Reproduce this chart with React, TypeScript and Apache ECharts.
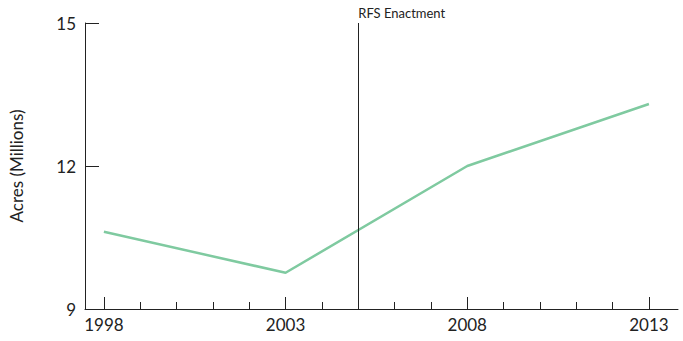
import React, { useEffect, useRef } from "react";
import * as echarts from "echarts";

const years = [1998, 2003, 2008, 2013];
const acres = [10.62, 9.76, 12.0, 13.3];
const majorTicks = [1998, 2003, 2008, 2013];
const minorTicks = [1998, 1999, 2000, 2001, 2002, 2003, 2004, 2005, 2006, 2007, 2008, 2009, 2010, 2011, 2012, 2013];
const yTicks = [9, 12, 15];
const eventYear = 2005;
const eventLabel = "RFS Enactment";
const yName = "Acres (Millions)";

const FONT = "Lato, 'Noto Sans', sans-serif";
const AXIS = "#222";

export default function App() {
  const ref = useRef<HTMLDivElement>(null);
  useEffect(() => {
    if (!ref.current) return;
    const chart = echarts.init(ref.current, null, { renderer: "svg" });
    chart.setOption({
      animation: false,
      grid: { left: 85, right: 5, top: 23, bottom: 32, containLabel: false },
      xAxis: [
        {
          type: "value",
          min: 1997.48,
          max: 2013.8,
          position: "bottom",
          axisLine: { show: true, lineStyle: { color: AXIS, width: 1 } },
          axisTick: { show: true, inside: true, length: 12, customValues: majorTicks, lineStyle: { color: AXIS } },
          axisLabel: {
            show: true,
            customValues: majorTicks,
            formatter: (v: number) => String(v),
            margin: 7,
            color: "#222",
            fontSize: 17,
            fontFamily: FONT,
          },
          splitLine: { show: false },
        },
        {
          type: "value",
          min: 1997.48,
          max: 2013.8,
          position: "bottom",
          axisLine: { show: false },
          axisTick: { show: true, inside: true, length: 7, customValues: minorTicks, lineStyle: { color: AXIS } },
          axisLabel: { show: false },
          splitLine: { show: false },
        },
      ],
      yAxis: {
        type: "value",
        min: 9,
        max: 15,
        interval: 3,
        name: yName,
        nameLocation: "middle",
        nameGap: 60,
        nameTextStyle: { color: "#222", fontSize: 17, fontFamily: FONT },
        axisLine: { show: true, lineStyle: { color: AXIS, width: 1 } },
        axisTick: { show: true, inside: true, length: 14, customValues: yTicks, lineStyle: { color: AXIS } },
        axisLabel: { margin: 9, color: "#222", fontSize: 17, fontFamily: FONT, customValues: yTicks },
        splitLine: { show: false },
      },
      series: [
        {
          type: "line",
          xAxisIndex: 0,
          data: years.map((y, i) => [y, acres[i]]),
          symbol: "none",
          lineStyle: { color: "#7fcaa0", width: 2.5 },
          markLine: {
            silent: true,
            symbol: "none",
            lineStyle: { color: "#222", width: 1, type: "solid" },
            label: {
              show: true,
              position: "end",
              formatter: eventLabel,
              color: "#222",
              fontSize: 13,
              fontFamily: FONT,
              align: "left",
              distance: 4,
            },
            data: [{ xAxis: eventYear }],
          },
        },
      ],
    });
    return () => chart.dispose();
  }, []);
  return <div ref={ref} style={{ width: 683, height: 341, position: "absolute", left: 0, top: 0 }} />;
}
